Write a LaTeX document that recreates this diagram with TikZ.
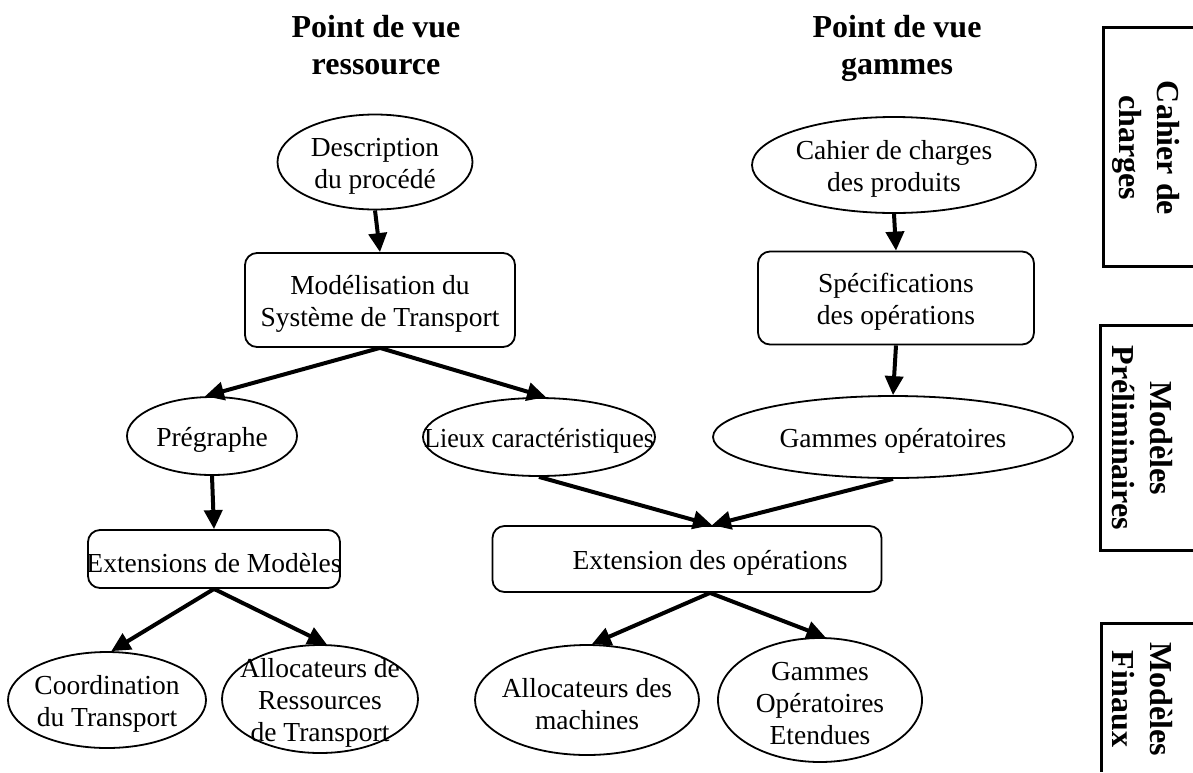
\documentclass[tikz,border=0pt]{standalone}
\usepackage{fontspec}
\setmainfont{Liberation Serif}
\usetikzlibrary{shapes.geometric,arrows.meta,calc}

\begin{document}
\begin{tikzpicture}[x=1pt,y=-1pt,
  txt/.style={font=\fontsize{27.5}{32}\selectfont, align=center, inner sep=0pt, yshift=-4pt},
  ell/.style={draw, ellipse, line width=1.8pt, inner sep=0pt},
  rbox/.style={draw, rectangle, rounded corners=12pt, line width=1.8pt, inner sep=0pt},
  flow/.style={line width=4pt, -{Triangle[length=19pt,width=18pt]}},
  heading/.style={font=\fontsize{32}{37}\selectfont\bfseries, align=center},
  sidelabel/.style={font=\fontsize{32}{38}\selectfont\bfseries, align=center, rotate=-90},
  frame/.style={line width=3pt}]

\path[use as bounding box, fill=white] (0,0) rectangle (1193,772);

% column headings
\node[heading] (t1) at (376,48) {Point de vue\\ressource\vphantom{g}};
\node[heading] (t2) at (897,48) {Point de vue\\gammes};

% resource view
\node[ell, minimum width=195pt, minimum height=95pt,
  label={[txt]center:Description\\du procédé}] (desc) at (375,162) {};
\node[rbox, minimum width=270pt, minimum height=94pt,
  label={[txt]center:Modélisation du\\Système de Transport}] (model) at (380,300) {};
\node[ell, minimum width=170pt, minimum height=78pt,
  label={[txt]center:Prégraphe}] (pre) at (212,436) {};
\node[ell, minimum width=232pt, minimum height=78pt,
  label={[txt]center:\scalebox{0.95}[1]{Lieux caractéristiques}}] (lieux) at (539,437) {};
\node[rbox, minimum width=252pt, minimum height=58pt,
  label={[txt]center:Extensions de Modèles}] (extmod) at (214,559) {};
\node[ell, minimum width=198pt, minimum height=96pt,
  label={[txt]center:Coordination\\du Transport}] (coord) at (107,700) {};
\node[ell, minimum width=196pt, minimum height=108pt,
  label={[txt]center:Allocateurs de\\Ressources\\de Transport}] (alloc) at (320,699) {};

% process-plan view
\node[ell, minimum width=284pt, minimum height=96pt,
  label={[txt]center:Cahier de charges\\des produits}] (cahier) at (894,165) {};
\node[rbox, minimum width=276pt, minimum height=93pt,
  label={[txt]center:Spécifications\\des opérations}] (spec) at (896,298) {};
\node[ell, minimum width=360pt, minimum height=82pt,
  label={[txt]center:Gammes opératoires}] (gammes) at (893,437) {};
\node[rbox, minimum width=389pt, minimum height=66pt,
  label={[txt, xshift=23pt]center:Extension des opérations}] (extops) at (687,559) {};
\node[ell, minimum width=224pt, minimum height=110pt,
  label={[txt]center:Allocateurs des\\machines}] (allocm) at (587,700) {};
\node[ell, minimum width=204pt, minimum height=124pt,
  label={[txt]center:Gammes\\Opératoires\\Etendues}] (gop) at (820,700) {};

% connectors
\draw[flow] (desc.south) -- (model.north);
\draw[flow] (model.south) -- (pre.100);
\draw[flow] (model.south) -- (lieux.80);
\draw[flow] (pre.south) -- (extmod.north);
\draw[flow] (extmod.south) -- (coord.85);
\draw[flow] (extmod.south) -- (alloc.83);
\draw[flow] (cahier.south) -- (spec.north);
\draw[flow] (spec.south) -- (gammes.north);
\draw[flow] (lieux.south) -- ($(extops.north)+(25,0)$);
\draw[flow] (gammes.south) -- ($(extops.north)+(25,0)$);
\draw[flow] ($(extops.south)+(23,0)$) -- (allocm.85);
\draw[flow] ($(extops.south)+(23,0)$) -- (gop.85);

% level frames on the right
\draw[frame] (1193,27) -- (1103,27) -- (1103,266) -- (1193,266);
\draw[frame] (1193,325) -- (1100,325) -- (1100,550) -- (1193,550);
\draw[frame] (1193,623) -- (1101,623) -- (1101,772);
\node[sidelabel] (s1) at (1146,148) {Cahier de\\charges};
\node[sidelabel] (s2) at (1142,438) {Modèles\\Préliminaires};
\node[sidelabel] (s3) at (1142,699) {Modèles\\Finaux};
\end{tikzpicture}
\end{document}
